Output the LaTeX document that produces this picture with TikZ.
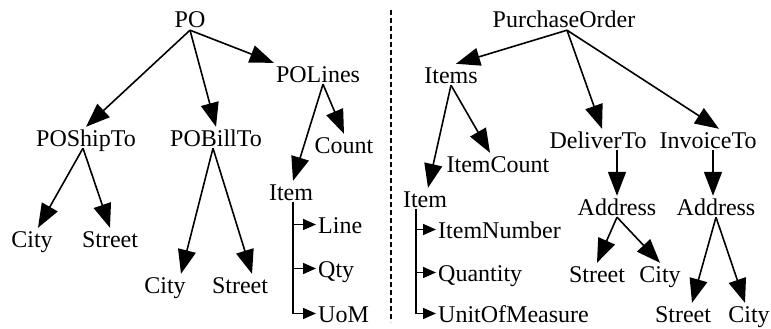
\documentclass[tikz,border=0pt]{standalone}
\usepackage{fontspec}
\setmainfont{Liberation Serif}
\usepackage{tikz}
\usetikzlibrary{arrows.meta}
\tikzset{
    elem/.style={
    inner sep=2pt,text height=17pt,text depth=0pt,anchor=base,
    font=\fontsize{24}{28}\selectfont
    },
    listelem/.style={
    elem,anchor=base west
    },
    link/.style={
    line width=1.6pt,-{Triangle[length=24pt,width=18pt]},shorten >=0pt
    },
    sublink/.style={
    line width=1.6pt,-{Triangle[length=13pt,width=11pt]}
    },
    divider/.style={
    line width=1.2pt,dash pattern=on 5pt off 3pt
    },
}

\begin{document}
\begin{tikzpicture}[x=1pt,y=-1pt]
   \useasboundingbox (0,0) rectangle (771,329);
   % left tree
   \node[elem] (po) at (190,28) {PO};
   \node[elem] (polines) at (318,82) {POLines};
   \node[elem] (poship) at (86,146) {POShipTo};
   \node[elem] (pobill) at (216,146) {POBillTo};
   \node[elem] (count) at (344,153) {Count};
   \node[elem] (iteml) at (291,200) {Item};
   \node[listelem] (line) at (316,233) {Line};
   \node[listelem] (qty) at (316,277) {Qty};
   \node[listelem] (uom) at (316,322) {UoM};
   \node[elem] (citys) at (32,247) {City};
   \node[elem] (streets) at (110,247) {Street};
   \node[elem] (cityb) at (165,293) {City};
   \node[elem] (streetb) at (240,293) {Street};

   \draw[link] (po.south) -- (poship.north);
   \draw[link] (po.south) -- (pobill.north);
   \draw[link] (po.south) -- (polines.north west);
   \draw[link] ([xshift=5pt]polines.south) -- (count.north);
   \draw[link] ([xshift=5pt]polines.south) -- ([xshift=2pt]iteml.north);
   \draw[link] ([xshift=-3pt]poship.south) -- ([xshift=6pt]citys.north);
   \draw[link] ([xshift=-3pt]poship.south) -- (streets.north);
   \draw[link] ([xshift=-3pt]pobill.south) -- ([xshift=16pt]cityb.north);
   \draw[link] ([xshift=-3pt]pobill.south) -- ([xshift=12pt]streetb.north);
   \draw[sublink] ([xshift=2pt]iteml.south) |- (line.west);
   \draw[sublink] ([xshift=2pt]iteml.south) |- (qty.west);
   \draw[sublink] ([xshift=2pt]iteml.south) |- (uom.west);

   \draw[divider] (391,10) -- (391,322);

   % right tree
   \node[elem] (porder) at (564,28) {PurchaseOrder};
   \node[elem] (items) at (451,83) {Items};
   \node[elem] (deliver) at (598,148) {DeliverTo};
   \node[elem] (invoice) at (708,148) {InvoiceTo};
   \node[elem] (itemcount) at (498,172) {ItemCount};
   \node[elem] (itemr) at (425,207) {Item};
   \node[listelem] (itemnum) at (436,238) {ItemNumber};
   \node[listelem] (quantity) at (436,281) {Quantity};
   \node[listelem] (unit) at (436,322) {UnitOfMeasure};
   \node[elem] (addrd) at (617,215) {Address};
   \node[elem] (addri) at (716,215) {Address};
   \node[elem] (streetd) at (597,282) {Street};
   \node[elem] (cityd) at (660,282) {City};
   \node[elem] (streeti) at (683,322) {Street};
   \node[elem] (cityi) at (749,322) {City};

   \draw[link] ([xshift=3pt]porder.south) -- ([xshift=5pt]items.north);
   \draw[link] ([xshift=3pt]porder.south) -- ([xshift=4pt]deliver.north);
   \draw[link] ([xshift=3pt]porder.south) -- ([xshift=11pt]invoice.north);
   \draw[link] (items.south) -- ([xshift=-8pt]itemcount.north);
   \draw[link] (items.south) -- ([xshift=3pt]itemr.north);
   \draw[link] (addrd.north |- deliver.south) -- (addrd.north);
   \draw[link] ([xshift=-3pt]addri.north |- invoice.south) -- ([xshift=-3pt]addri.north);
   \draw[link] (addrd.south) -- (streetd.north);
   \draw[link] (addrd.south) -- (cityd.north);
   \draw[link] (addri.south) -- ([xshift=9pt]streeti.north);
   \draw[link] (addri.south) -- ([xshift=-4pt]cityi.north);
   \draw[sublink] ([xshift=-9pt]itemr.south) |- (itemnum.west);
   \draw[sublink] ([xshift=-9pt]itemr.south) |- (quantity.west);
   \draw[sublink] ([xshift=-9pt]itemr.south) |- (unit.west);
\end{tikzpicture}
\end{document}
